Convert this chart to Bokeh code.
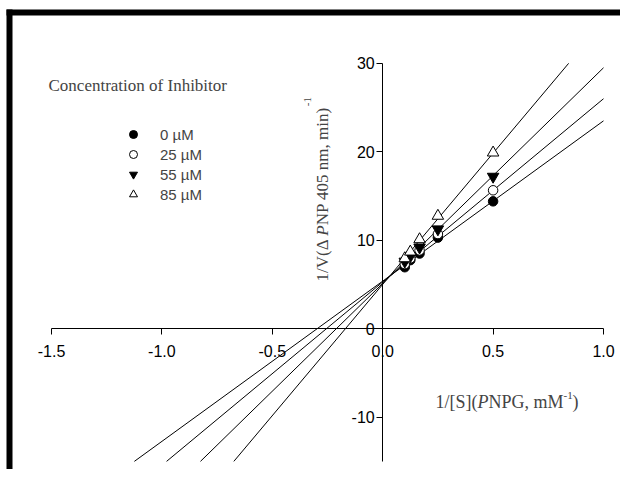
import math
from bokeh.plotting import figure
from bokeh.models import (LinearAxis, FixedTicker, PrintfTickFormatter, Label,
                          Legend, LegendItem, ColumnDataSource, BoxAnnotation)
from bokeh.embed import file_html
from bokeh.resources import INLINE

# ---- data ----
inv_s = [0.1, 0.125, 0.167, 0.25, 0.5]
v_0uM = [6.95, 7.75, 8.5, 10.3, 14.4]
v_25uM = [7.3, 7.95, 8.85, 10.7, 15.65]
v_55uM = [7.6, 8.2, 9.2, 11.25, 17.2]
v_85uM = [7.95, 8.7, 10.1, 12.75, 19.9]
series_labels = ["0 \u00b5M", "25 \u00b5M", "55 \u00b5M", "85 \u00b5M"]
fit_slopes = [18.12, 20.72, 24.38, 29.68]
fit_intercepts = [5.38, 5.28, 5.12, 5.01]
x_ticks = [-1.5, -1.0, -0.5, 0.0, 0.5, 1.0]
y_ticks = [-10, 0, 10, 20, 30]
X_MIN, X_MAX = -1.5, 1.0
Y_MIN, Y_MAX = -15, 30

# ---- layout calibration (picture pixels, canvas origin at top-left) ----
PAGE_L, PAGE_T, PAGE_R, PAGE_B = 0, 0, 620, 469
X0_PX, Y0_PX = 382.2, 328.2          # position of data (0, 0)
SX = 552.0 / (X_MAX - X_MIN)         # px per x unit
SY = 398.0 / (Y_MAX - Y_MIN)         # px per y unit


def dx(px):
    return (px - X0_PX) / SX


def dy(py):
    return (Y0_PX - py) / SY


W = PAGE_R - PAGE_L
H = PAGE_B - PAGE_T
p = figure(x_range=(dx(PAGE_L), dx(PAGE_R)), y_range=(dy(PAGE_B), dy(PAGE_T)),
           x_axis_type=None, y_axis_type=None,
           frame_width=W, frame_height=H, min_border=0,
           output_backend="svg", toolbar_location=None)
p.outline_line_color = None
p.background_fill_color = "white"
p.border_fill_color = "white"

# thick panel border (top and left)
p.add_layout(BoxAnnotation(left=dx(6), right=dx(PAGE_R), top=dy(9), bottom=dy(15),
                           fill_color="black", fill_alpha=1, line_color=None))
p.add_layout(BoxAnnotation(left=dx(6), right=dx(12), top=dy(9), bottom=dy(PAGE_B),
                           fill_color="black", fill_alpha=1, line_color=None))

xaxis = LinearAxis(fixed_location=0, ticker=FixedTicker(ticks=x_ticks),
                   formatter=PrintfTickFormatter(format="%.1f"),
                   bounds=(X_MIN, X_MAX))
yaxis = LinearAxis(fixed_location=0, ticker=FixedTicker(ticks=y_ticks),
                   formatter=PrintfTickFormatter(format="%d"),
                   bounds=(Y_MIN, Y_MAX))
for ax in (xaxis, yaxis):
    ax.axis_line_color = "black"
    ax.axis_line_width = 1
    ax.major_tick_line_color = "black"
    ax.major_tick_out = 6
    ax.major_tick_in = 0
    ax.minor_tick_out = 0
    ax.minor_tick_in = 0
    ax.major_label_text_font = "Liberation Sans"
    ax.major_label_text_font_size = "16px"
    ax.major_label_text_color = "black"
xaxis.major_label_standoff = 10
yaxis.major_label_standoff = 2
p.add_layout(xaxis, "below")
p.add_layout(yaxis, "left")

# fitted lines, clipped to the plotted window
x0s, y0s, x1s, y1s = [], [], [], []
for m, b in zip(fit_slopes, fit_intercepts):
    xa = (Y_MIN - b) / m
    xb = min(X_MAX, (Y_MAX - b) / m)
    x0s.append(xa)
    y0s.append(m * xa + b)
    x1s.append(xb)
    y1s.append(m * xb + b)
p.segment(x0=x0s, y0=y0s, x1=x1s, y1=y1s, line_color="black", line_width=1)

series = [v_0uM, v_25uM, v_55uM, v_85uM]
markers = ["circle", "circle", "inverted_triangle", "triangle"]
sizes = [9.5, 9.5, 11.5, 11.5]
fills = ["black", "white", "black", "white"]
items = []
for vals, mk, sz, fc, lab in zip(series, markers, sizes, fills, series_labels):
    src = ColumnDataSource(dict(x=inv_s, y=vals))
    r = p.scatter("x", "y", source=src, marker=mk, size=sz,
                  fill_color=fc, line_color="black", line_width=1)
    items.append(LegendItem(label=lab, renderers=[r]))

GW, GH = 22, 20
LEG_CX, LEG_TOP_ROW = 133, 134
legend = Legend(items=items,
                location=(LEG_CX - GW / 2 - PAGE_L,
                          PAGE_B - (LEG_TOP_ROW - GH / 2 + 4 * GH)),
                glyph_width=GW, glyph_height=GH, label_height=GH,
                label_standoff=16, spacing=0, padding=0, margin=0,
                border_line_color=None, background_fill_alpha=0,
                label_text_font="Liberation Sans", label_text_font_size="15px",
                label_text_baseline="middle")
p.add_layout(legend)

SERIF = "Liberation Serif"

p.add_layout(Label(x=dx(48), y=dy(85), text="Concentration of Inhibitor",
                   text_font=SERIF, text_font_size="17px",
                   text_baseline="middle", text_align="left"))

# y-axis title (rotated), built from pieces
fs = 17
yl_base = 321.5
pieces_y = [("1/V(\u0394 ", "normal", 2695), ("P", "italic", 611),
            ("NP 405 nm, min)", "normal", 6945)]
cur = 281.0
for txt, style, w in pieces_y:
    p.add_layout(Label(x=dx(yl_base), y=dy(cur), text=txt, angle=math.pi / 2,
                       text_font=SERIF, text_font_size=f"{fs}px",
                       text_font_style=style, text_align="left",
                       text_baseline="alphabetic"))
    cur -= w * fs / 1000.0
p.add_layout(Label(x=dx(yl_base - 15), y=dy(cur - 1), text="-1", angle=math.pi / 2,
                   text_font=SERIF, text_font_size="11px", text_align="left",
                   text_baseline="alphabetic"))

# x-axis title, built from pieces
fsx = 18
xl_base = 401.0
pieces_x = [("1/[S](", "normal", 2333), ("P", "italic", 611),
            ("NPG, mM", "normal", 4167)]
cur = 435.0
for txt, style, w in pieces_x:
    p.add_layout(Label(x=dx(cur), y=dy(xl_base), text=txt,
                       text_font=SERIF, text_font_size=f"{fsx}px",
                       text_font_style=style, text_align="left",
                       text_baseline="alphabetic"))
    cur += w * fsx / 1000.0
p.add_layout(Label(x=dx(cur), y=dy(xl_base - 6), text="-1",
                   text_font=SERIF, text_font_size="11px", text_align="left",
                   text_baseline="alphabetic"))
p.add_layout(Label(x=dx(cur + 9), y=dy(xl_base), text=")",
                   text_font=SERIF, text_font_size=f"{fsx}px", text_align="left",
                   text_baseline="alphabetic"))

open("out.html", "w").write(file_html(p, INLINE))
